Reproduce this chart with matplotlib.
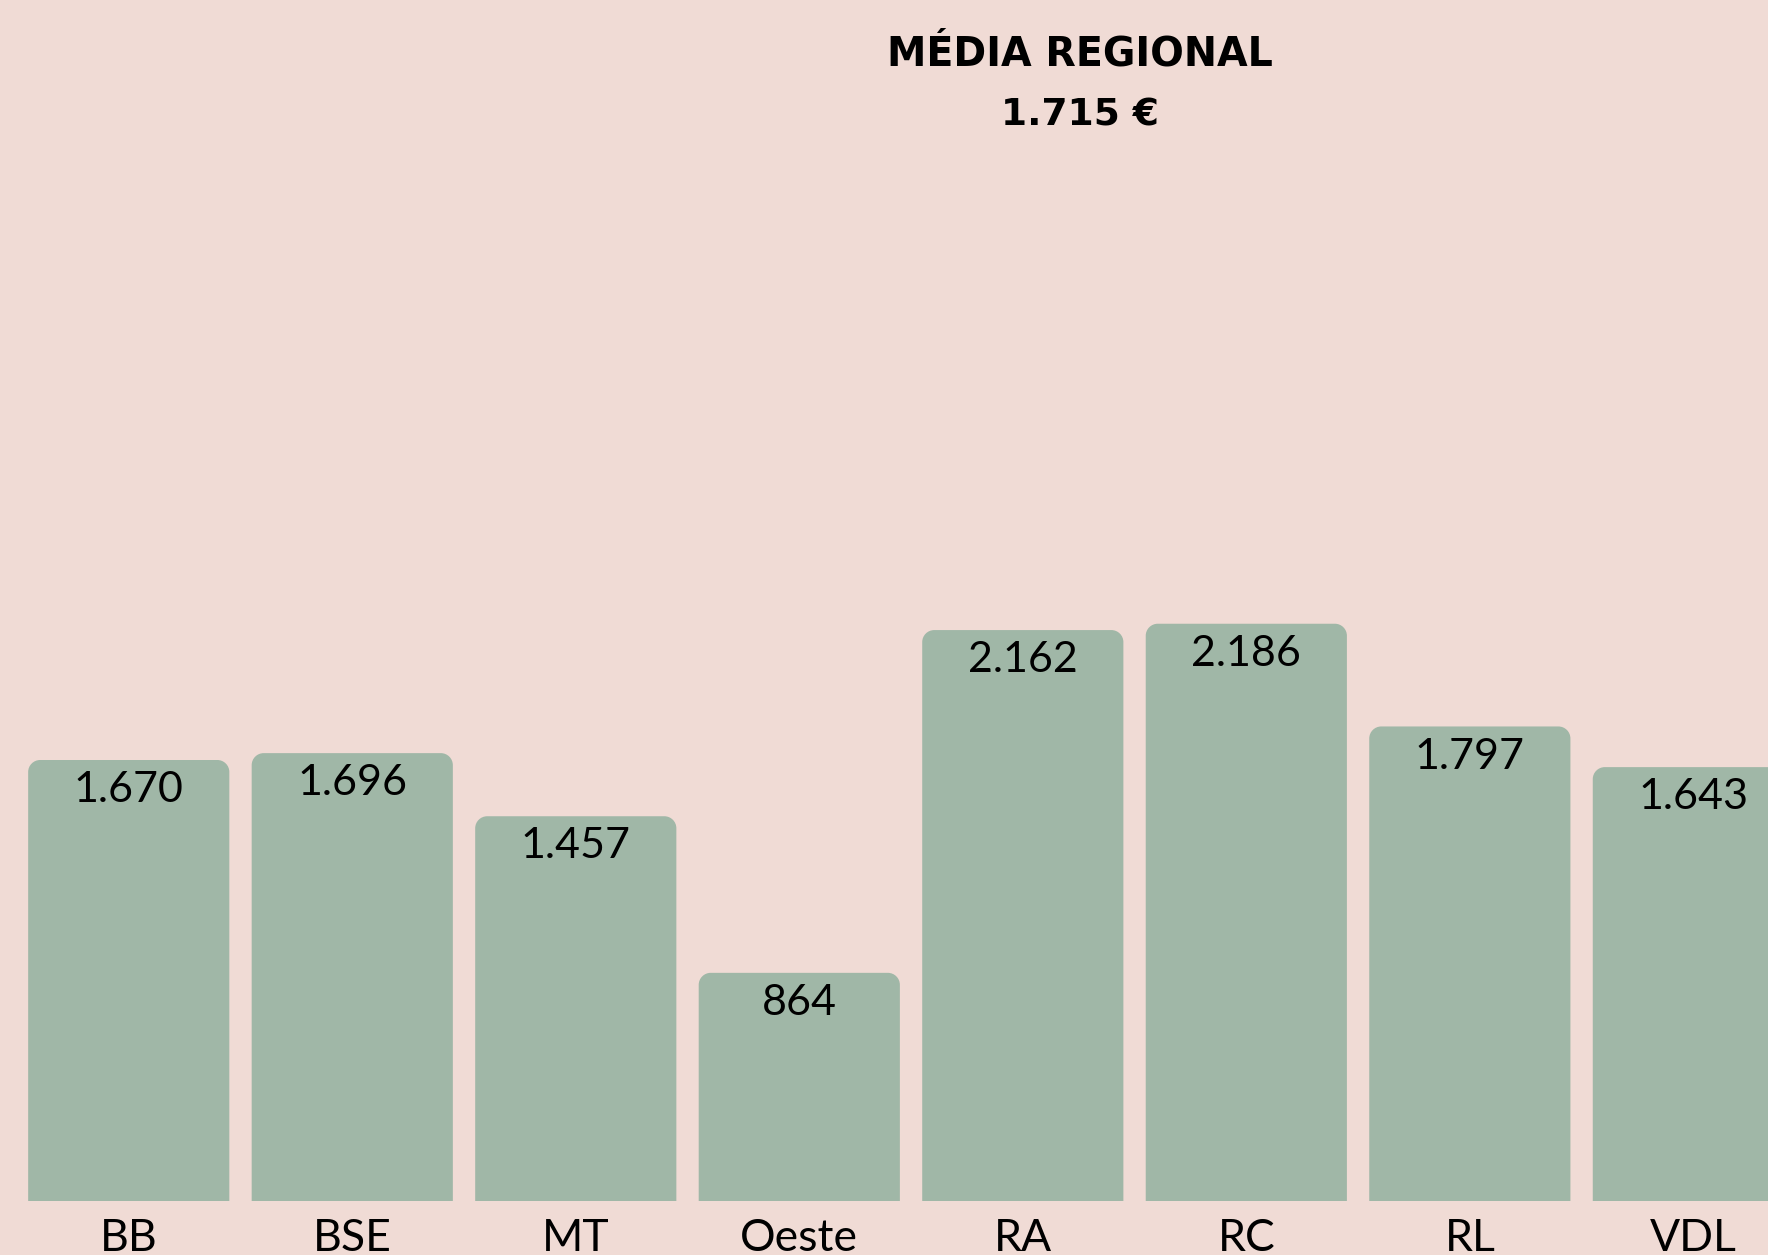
import matplotlib
matplotlib.use('Agg')
import matplotlib.pyplot as plt
from matplotlib.path import Path
from matplotlib.patches import PathPatch
import numpy as np

# Data
regions = ['BB', 'BSE', 'MT', 'Oeste', 'RA', 'RC', 'RL', 'VDL']
values = [1670, 1696, 1457, 864, 2162, 2186, 1797, 1643]
title_line = 'MÉDIA REGIONAL'
average_line = '1.715 €'

BG = '#F0DBD5'
BAR = '#A0B7A7'
FONT = 'Lato'
TITLE_FONT = 'DejaVu Sans'


def fmt(v):
    # Portuguese thousands separator
    return f"{v:,}".replace(',', '.')


def rounded_top(x0, x1, top, rx, ry):
    """Path for a bar with rounded top corners (data coords)."""
    k = 0.5523
    verts = [
        (x0, 0), (x0, top - ry),
        (x0, top - ry + k * ry), (x0 + rx - k * rx, top), (x0 + rx, top),
        (x1 - rx, top),
        (x1 - rx + k * rx, top), (x1, top - ry + k * ry), (x1, top - ry),
        (x1, 0), (x0, 0),
    ]
    codes = [Path.MOVETO, Path.LINETO,
             Path.CURVE4, Path.CURVE4, Path.CURVE4,
             Path.LINETO,
             Path.CURVE4, Path.CURVE4, Path.CURVE4,
             Path.LINETO, Path.CLOSEPOLY]
    return Path(verts, codes)


fig = plt.figure(figsize=(17.68, 12.55), dpi=100, facecolor=BG)
ax = fig.add_axes([0, 54 / 1255, 1, 1201 / 1255])
ax.set_facecolor(BG)

x = np.arange(len(regions))
bars = ax.bar(x, values, width=0.9, color=BAR)
ax.set_xlim(-0.576, 7.334)
ax.set_ylim(0, 4548)

# pixel scale for corner radius
(px0, py0), (px1, py1) = ax.transData.transform([(0, 0), (1, 1)])
radius = 12
rx = radius / (px1 - px0)
ry = radius / (py1 - py0)

for rect, v in zip(bars, values):
    rect.set_visible(False)
    x0 = rect.get_x()
    x1 = x0 + rect.get_width()
    ax.add_patch(PathPatch(rounded_top(x0, x1, v, rx, ry),
                           facecolor=BAR, edgecolor='none'))
    ax.annotate(fmt(v), (x0 + rect.get_width() / 2, v),
                xytext=(0, -8), textcoords='offset points',
                ha='center', va='top', fontsize=31,
                family=FONT, color='black')

# category labels sit at the bottom edge, partly cut off as in the original
ax.set_xticks(x, regions)
ax.tick_params(axis='x', length=0, pad=12, labelsize=32)
for lbl in ax.get_xticklabels():
    lbl.set_family(FONT)
ax.set_yticks([])
for s in ax.spines.values():
    s.set_visible(False)

fig.text(0.611, 1 - 55 / 1255, title_line, ha='center', va='center',
         fontsize=28.5, fontweight='bold', family=TITLE_FONT)
fig.text(0.611, 1 - 115 / 1255, average_line, ha='center', va='center',
         fontsize=27, fontweight='bold', family=TITLE_FONT)

fig.savefig('out.png', dpi=100, facecolor=BG)
